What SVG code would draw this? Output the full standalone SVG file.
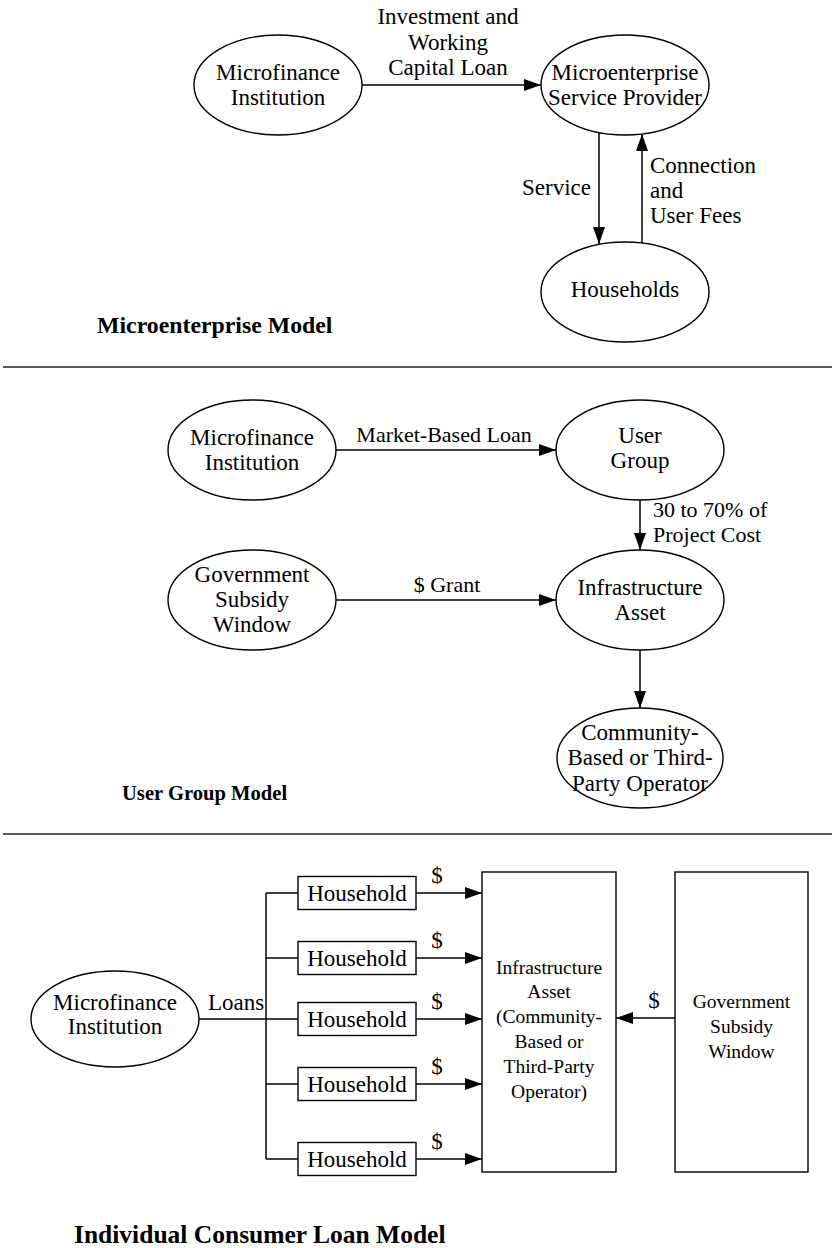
<svg xmlns="http://www.w3.org/2000/svg" width="832" height="1248" viewBox="0 0 832 1248" font-family="'Liberation Serif', 'Times New Roman', serif">
<style>
  text { font-family: "Liberation Serif", "Times New Roman", serif; fill: #000; }
  .t { font-family: "Liberation Serif", "Times New Roman", serif; font-size: 23px; text-anchor: middle; }
  .l { font-family: "Liberation Serif", "Times New Roman", serif; font-size: 23px; }
  .m { font-family: "Liberation Serif", "Times New Roman", serif; font-size: 22px; }
  .s { font-family: "Liberation Serif", "Times New Roman", serif; font-size: 19.5px; text-anchor: middle; }
  .title { font-family: "Liberation Serif", "Times New Roman", serif; font-weight: bold; }
  .shape { fill: #fff; stroke: #000; stroke-width: 1.4; }
  .conn line { stroke: #000; stroke-width: 1.5; fill: none; }
  .arr { marker-end: url(#ah); }
  .sep { stroke: #222; stroke-width: 1.6; }
</style>
<defs>
  <marker id="ah" markerUnits="userSpaceOnUse" markerWidth="17" markerHeight="12" refX="17" refY="6" orient="auto">
    <path d="M0,0 L17,6 L0,12 z" fill="#000"/>
  </marker>
</defs>
<rect x="0" y="0" width="832" height="1248" fill="#fff"/>

<!-- Section 1: Microenterprise Model -->
<g id="mfi1">
  <ellipse class="shape" cx="278" cy="85" rx="84" ry="50"/>
  <text class="t" x="278" y="80">Microfinance</text>
  <text class="t" x="278" y="105">Institution</text>
</g>
<g id="msp">
  <ellipse class="shape" cx="625" cy="85" rx="84" ry="50"/>
  <text class="t" x="625" y="80">Microenterprise</text>
  <text class="t" x="625" y="105">Service Provider</text>
</g>
<g id="households">
  <ellipse class="shape" cx="625" cy="292" rx="84" ry="50"/>
  <text class="t" x="625" y="297">Households</text>
</g>
<g id="conn1" class="conn">
  <line class="arr" x1="362" y1="85" x2="541" y2="85"/>
  <line class="arr" x1="599" y1="133" x2="599" y2="244"/>
  <line class="arr" x1="642" y1="243" x2="642" y2="134"/>
</g>
<g id="labels1">
  <text class="t" x="448" y="24">Investment and</text>
  <text class="t" x="448" y="50">Working</text>
  <text class="t" x="448" y="75">Capital Loan</text>
  <text class="l" x="591" y="195" text-anchor="end">Service</text>
  <text class="l" x="650" y="173">Connection</text>
  <text class="l" x="650" y="198">and</text>
  <text class="l" x="650" y="223">User Fees</text>
  <text class="title" x="97" y="333" font-size="23.8">Microenterprise Model</text>
</g>
<line class="sep" x1="3" y1="367" x2="832" y2="367"/>

<!-- Section 2: User Group Model -->
<g id="mfi2">
  <ellipse class="shape" cx="252" cy="450" rx="84" ry="50"/>
  <text class="t" x="252" y="445">Microfinance</text>
  <text class="t" x="252" y="470">Institution</text>
</g>
<g id="usergroup">
  <ellipse class="shape" cx="640" cy="450" rx="84" ry="50"/>
  <text class="t" x="640" y="443">User</text>
  <text class="t" x="640" y="468">Group</text>
</g>
<g id="gov2">
  <ellipse class="shape" cx="252" cy="600" rx="84" ry="50"/>
  <text class="t" x="252" y="582">Government</text>
  <text class="t" x="252" y="607">Subsidy</text>
  <text class="t" x="252" y="632">Window</text>
</g>
<g id="infra2">
  <ellipse class="shape" cx="640" cy="600" rx="84" ry="50"/>
  <text class="t" x="640" y="595">Infrastructure</text>
  <text class="t" x="640" y="620">Asset</text>
</g>
<g id="community">
  <ellipse class="shape" cx="640" cy="758" rx="83" ry="50"/>
  <text class="t" x="640" y="740">Community-</text>
  <text class="t" x="640" y="765">Based or Third-</text>
  <text class="t" x="640" y="791">Party Operator</text>
</g>
<g id="conn2" class="conn">
  <line class="arr" x1="336" y1="450" x2="556" y2="450"/>
  <line class="arr" x1="336" y1="600" x2="556" y2="600"/>
  <line class="arr" x1="640" y1="500" x2="640" y2="550"/>
  <line class="arr" x1="640" y1="650" x2="640" y2="708"/>
</g>
<g id="labels2">
  <text class="m" x="444" y="442" text-anchor="middle">Market-Based Loan</text>
  <text class="m" x="447" y="592" text-anchor="middle">$ Grant</text>
  <text class="m" x="653" y="517">30 to 70% of</text>
  <text class="m" x="653" y="542">Project Cost</text>
  <text class="title" x="122" y="800" font-size="20.6">User Group Model</text>
</g>
<line class="sep" x1="3" y1="834" x2="832" y2="834"/>

<!-- Section 3: Individual Consumer Loan Model -->
<g id="mfi3">
  <ellipse class="shape" cx="115" cy="1019" rx="84" ry="48"/>
  <text class="t" x="115" y="1010">Microfinance</text>
  <text class="t" x="115" y="1034">Institution</text>
</g>
<g id="hh1">
  <rect class="shape" x="298" y="876.5" width="118" height="33"/>
  <text class="t" x="357" y="900.5">Household</text>
</g>
<g id="hh2">
  <rect class="shape" x="298" y="941.5" width="118" height="33"/>
  <text class="t" x="357" y="965.5">Household</text>
</g>
<g id="hh3">
  <rect class="shape" x="298" y="1002.5" width="118" height="33"/>
  <text class="t" x="357" y="1026.5">Household</text>
</g>
<g id="hh4">
  <rect class="shape" x="298" y="1067.5" width="118" height="33"/>
  <text class="t" x="357" y="1091.5">Household</text>
</g>
<g id="hh5">
  <rect class="shape" x="298" y="1142.5" width="118" height="33"/>
  <text class="t" x="357" y="1166.5">Household</text>
</g>
<g id="infra3">
  <rect class="shape" x="482" y="872" width="134" height="300"/>
  <text class="s" x="549" y="974">Infrastructure</text>
  <text class="s" x="549" y="998">Asset</text>
  <text class="s" x="549" y="1023">(Community-</text>
  <text class="s" x="549" y="1048">Based or</text>
  <text class="s" x="549" y="1073">Third-Party</text>
  <text class="s" x="549" y="1098">Operator)</text>
</g>
<g id="gov3">
  <rect class="shape" x="675" y="872" width="133" height="300"/>
  <text class="s" x="741.5" y="1008">Government</text>
  <text class="s" x="741.5" y="1033">Subsidy</text>
  <text class="s" x="741.5" y="1058">Window</text>
</g>
<g id="conn3" class="conn">
  <line x1="199" y1="1019" x2="266" y2="1019"/>
  <line x1="266" y1="893" x2="266" y2="1159"/>
  <line x1="266" y1="893" x2="298" y2="893"/>
  <line x1="266" y1="958" x2="298" y2="958"/>
  <line x1="266" y1="1019" x2="298" y2="1019"/>
  <line x1="266" y1="1084" x2="298" y2="1084"/>
  <line x1="266" y1="1159" x2="298" y2="1159"/>
  <line class="arr" x1="416" y1="893" x2="482" y2="893"/>
  <line class="arr" x1="416" y1="958" x2="482" y2="958"/>
  <line class="arr" x1="416" y1="1019" x2="482" y2="1019"/>
  <line class="arr" x1="416" y1="1084" x2="482" y2="1084"/>
  <line class="arr" x1="416" y1="1159" x2="482" y2="1159"/>
  <line class="arr" x1="675" y1="1018" x2="616" y2="1018"/>
</g>
<g id="labels3">
  <text class="l" x="208" y="1010">Loans</text>
  <text class="t" x="437" y="883">$</text>
  <text class="t" x="437" y="948">$</text>
  <text class="t" x="437" y="1009">$</text>
  <text class="t" x="437" y="1074">$</text>
  <text class="t" x="437" y="1149">$</text>
  <text class="t" x="654" y="1008">$</text>
  <text class="title" x="74" y="1243" font-size="25.5">Individual Consumer Loan Model</text>
</g>
</svg>
